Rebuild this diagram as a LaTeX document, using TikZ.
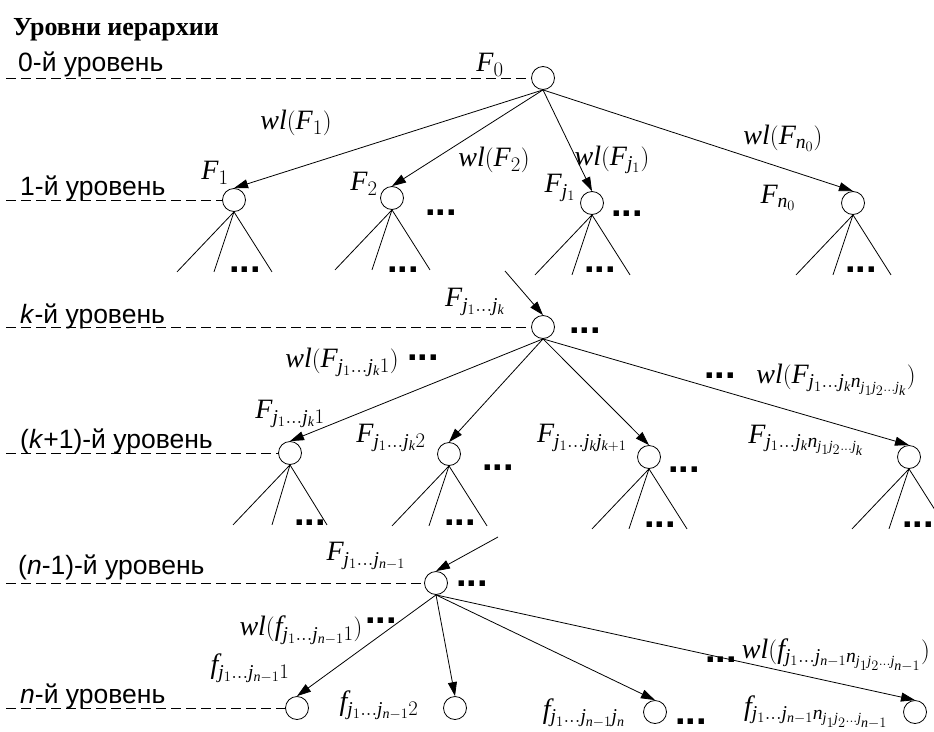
\documentclass[tikz,border=0pt]{standalone}
\usepackage{fontspec}
\setmainfont{Liberation Serif}[NFSSFamily=libserif]
\newfontfamily\sansf{Liberation Sans}
\newfontfamily\titlef{Liberation Serif}[UprightFont={* Bold}]
\DeclareSymbolFont{tletters}{TU}{libserif}{m}{it}
\DeclareMathSymbol{F}{\mathalpha}{tletters}{`F}
\DeclareMathSymbol{f}{\mathalpha}{tletters}{`f}
\DeclareMathSymbol{j}{\mathalpha}{tletters}{`j}
\DeclareMathSymbol{k}{\mathalpha}{tletters}{`k}
\DeclareMathSymbol{n}{\mathalpha}{tletters}{`n}
\DeclareMathSymbol{w}{\mathalpha}{tletters}{`w}
\DeclareMathSymbol{l}{\mathalpha}{tletters}{`l}
\usetikzlibrary{arrows.meta}
\begin{document}
\begin{tikzpicture}[x=1pt,y=-1pt,
 nd/.style={circle,draw,minimum size=23pt,inner sep=0pt,line width=0.8pt},
 lvl/.style={dash pattern=on 10pt off 5pt,line width=0.8pt},
 arr/.style={-{Triangle[length=14pt,width=9pt]},line width=0.8pt},
 ln/.style={line width=0.8pt},
 lab/.style={font=\fontsize{28}{32}\selectfont,inner sep=0pt},
 lvltxt/.style={font=\sansf\fontsize{26.5}{30}\selectfont,anchor=base west,inner sep=0pt},
 dts/.style={font=\sansf\bfseries\fontsize{38}{38}\selectfont,anchor=base,inner sep=0pt,text depth=0pt}
]
\useasboundingbox (0,0) rectangle (934,731);
% title
\node[anchor=base west,inner sep=0pt,font=\titlef\fontsize{26}{30}\selectfont] (title) at (13,35) {Уровни иерархии};
% level texts
\node[lvltxt] (t0) at (18,71) {0-й уровень};
\node[lvltxt] (t1) at (20,195) {1-й уровень};
\node[lvltxt] (tk) at (20,323) {\textit{k}-й уровень};
\node[lvltxt] (tk1) at (20,448) {(\textit{k}+1)-й уровень};
\node[lvltxt] (tn1) at (18,574) {(\textit{n}-1)-й уровень};
\node[lvltxt] (tn) at (20,703) {\textit{n}-й уровень};
% nodes
\node[nd] (F0) at (543,78) {};
\node[nd] (F1) at (234,200) {};
\node[nd] (F2) at (392,198) {};
\node[nd] (Fj) at (592,203) {};
\node[nd] (Fn0) at (853,203) {};
\node[nd] (Fk) at (543,327) {};
\node[nd] (K1) at (290,453) {};
\node[nd] (K2) at (449,454) {};
\node[nd] (K3) at (649,457) {};
\node[nd] (K4) at (909,457) {};
\node[nd] (Fm) at (436,583) {};
\node[nd] (N1) at (297,708) {};
\node[nd] (N2) at (455,708) {};
\node[nd] (N3) at (655,712) {};
\node[nd] (N4) at (915,712) {};
% level lines
\coordinate (l0) at (6,78);
\coordinate (l1) at (6,200);
\coordinate (lk) at (6,327);
\coordinate (lk1) at (6,453);
\coordinate (lm) at (6,583);
\coordinate (ln) at (6,708);
\draw[lvl] (l0) -- (F0.west);
\draw[lvl] (l1) -- (F1.west);
\draw[lvl] (lk) -- (Fk.west);
\draw[lvl] (lk1) -- (K1.west);
\draw[lvl] (lm) -- (Fm.west);
\draw[lvl] (ln) -- (N1.west);
% edges
\foreach \c in {F1,F2,Fj,Fn0} \draw[arr] (F0.south) -- (\c.north);
\foreach \c in {K1,K2,K3,K4} \draw[arr] (Fk.south) -- (\c.north);
\foreach \c in {N1,N2,N3,N4} \draw[arr] (Fm.south) -- (\c.north);
\coordinate (inK) at (505,271);
\coordinate (inM) at (498,537);
\draw[arr] (inK) -- (Fk.north);
\draw[arr] (inM) -- (Fm.north);
% subtrees
\foreach \c in {F1,F2,Fj,Fn0,K2,K3,K4} {
  \path (\c.south) ++(-57,60) coordinate (\c a) (\c.south) ++(-20,60) coordinate (\c b) (\c.south) ++(38,60) coordinate (\c c);
  \draw[ln] (\c a) -- (\c.south) -- (\c c);
  \draw[ln] (\c.south) -- (\c b);
}
\path (K1.south) ++(-57,60) coordinate (K1a) (K1.south) ++(-18,60) coordinate (K1b) (K1.south) ++(37,60) coordinate (K1c);
\draw[ln] (K1a) -- (K1.south) -- (K1c);
\draw[ln] (K1.south) -- (K1b);
% dots
\node[dts] (d1) at (245,272) {...};
\node[dts] (d2) at (403,272) {...};
\node[dts] (d3) at (600,272) {...};
\node[dts] (d4) at (861,272) {...};
\node[dts] (d5) at (441,215) {...};
\node[dts] (d6) at (627,216) {...};
\node[dts] (d7) at (585,333) {...};
\node[dts] (d8) at (423,360) {...};
\node[dts] (d9) at (720,378) {...};
\node[dts] (d10) at (310,525) {...};
\node[dts] (d11) at (460,525) {...};
\node[dts] (d12) at (498,470) {...};
\node[dts] (d13) at (660,527) {...};
\node[dts] (d14) at (684,472) {...};
\node[dts] (d15) at (918,527) {...};
\node[dts] (d16) at (472,586) {...};
\node[dts] (d17) at (381,623) {...};
\node[dts] (d18) at (691,724) {...};
\node[dts] (d19) at (721,662) {...};
% labels
\node[lab] (LF0) at (490,65) {$F_0$};
\node[lab] (LF1) at (215,173) {$F_1$};
\node[lab] (LW1) at (296,123) {$wl(F_1)$};
\node[lab] (LF2) at (364,184) {$F_2$};
\node[lab] (LW2) at (494,160) {$wl(F_2)$};
\node[lab] (LFj) at (560,188) {$F_{j_1}$};
\node[lab] (LWj) at (612,160) {$wl(F_{j_1})$};
\node[lab] (LWn0) at (783,138) {$wl(F_{n_0})$};
\node[lab] (LFn0) at (778,198) {$F_{n_0}$};
\node[lab] (LFk) at (475,302) {$F_{j_1\ldots j_k}$};
\node[lab] (LWK1) at (342,362) {$wl(F_{j_1\ldots j_k 1})$};
\node[lab] (LK1) at (290,414) {$F_{j_1\ldots j_k 1}$};
\node[lab] (LK2) at (391,438) {$F_{j_1\ldots j_k 2}$};
\node[lab] (LK3) at (582,438) {$F_{j_1\ldots j_k j_{k+1}}$};
\node[lab] (LK4) at (806,440) {$F_{j_1\ldots j_k n_{j_1 j_2\ldots j_k}}$};
\node[lab] (LWK4) at (836,380) {$wl(F_{j_1\ldots j_k n_{j_1 j_2\ldots j_k}})$};
\node[lab] (LFm) at (366,556) {$F_{j_1\ldots j_{n-1}}$};
\node[lab] (LWN1) at (301,630) {$wl(f_{j_1\ldots j_{n-1}1})$};
\node[lab] (LN1) at (250,668) {$f_{j_1\ldots j_{n-1}1}$};
\node[lab] (LN2) at (379,705) {$f_{j_1\ldots j_{n-1}2}$};
\node[lab] (LN3) at (584,713) {$f_{j_1\ldots j_{n-1}j_n}$};
\node[lab] (LWN4) at (836,655) {$wl(f_{j_1\ldots j_{n-1}n_{j_1 j_2\ldots j_{n-1}}})$};
\node[lab] (LN4) at (816,712) {$f_{j_1\ldots j_{n-1}n_{j_1 j_2\ldots j_{n-1}}}$};
\end{tikzpicture}
\end{document}
